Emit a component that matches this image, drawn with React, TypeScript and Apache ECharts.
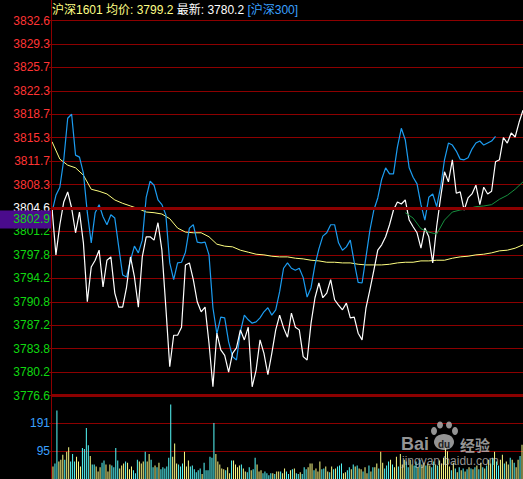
import React, { useEffect, useRef } from "react";
import * as echarts from "echarts";

// ---------- data ----------
const BASE = 3776.6; // bottom of the price scale
const PREV_CLOSE = 3804.6;
const CURSOR_PRICE = 3802.9;
const PRICE_TICKS = [
  "3776.6", "3780.2", "3783.8", "3787.2", "3790.8", "3794.2", "3797.8", "3801.2", "3804.6",
  "3808.3", "3811.7", "3815.3", "3818.7", "3822.3", "3825.7", "3829.3", "3832.6",
];
const VOL_TICKS = ["0", "95", "191"];

const HEADER_NAME = "沪深1601";
const HEADER_AVG = "均价: 3799.2";
const HEADER_LAST = "最新: 3780.2";
const HEADER_INDEX = "[沪深300]";

// price of 沪深1601, one point every 2 minutes
const PRICE = [
  3804.6, 3797.6, 3802.1, 3805.5, 3807.0, 3804.6, 3800.9, 3804.0, 3799.4, 3790.6,
  3795.8, 3796.8, 3798.3, 3792.8, 3796.8, 3797.3, 3791.9, 3789.8, 3789.8, 3792.8,
  3797.3, 3794.3, 3789.8, 3797.3, 3800.3, 3800.3, 3799.8, 3802.4, 3798.3, 3789.8,
  3780.9, 3785.6, 3785.6, 3786.8, 3796.1, 3796.4, 3793.9, 3790.6, 3789.1, 3789.8,
  3784.4, 3777.9, 3785.9, 3783.4, 3782.6, 3780.1, 3782.9, 3783.7, 3786.4, 3784.9,
  3786.8, 3777.9, 3780.4, 3784.9, 3782.9, 3779.7, 3782.9, 3786.4, 3788.6, 3786.7,
  3785.3, 3788.9, 3786.8, 3786.4, 3782.4, 3781.9, 3787.4, 3791.2, 3793.4, 3791.2,
  3791.9, 3793.9, 3790.9, 3790.1, 3789.4, 3790.4, 3788.2, 3788.3, 3785.9, 3784.9,
  3789.7, 3792.4, 3795.3, 3798.3, 3799.1, 3800.3, 3802.1, 3804.3, 3805.5, 3805.2,
  3805.8, 3802.8, 3801.8, 3800.9, 3798.6, 3801.6, 3800.3, 3796.4, 3801.8, 3806.1,
  3810.0, 3808.5, 3811.8, 3806.8, 3807.0, 3804.3, 3806.1, 3806.7, 3808.0, 3805.1,
  3807.7, 3806.7, 3807.1, 3811.5, 3811.8, 3815.1, 3814.3, 3815.8, 3815.2, 3817.4, 3819.2,
];

// 沪深300 overlay, one point every 2 minutes
const INDEX300 = [
  3804.0, 3806.5, 3807.7, 3811.8, 3818.0, 3818.6, 3812.5, 3812.2, 3809.8, 3803.9,
  3799.4, 3803.9, 3805.1, 3803.3, 3802.1, 3803.6, 3803.1, 3798.8, 3794.6, 3794.3,
  3796.8, 3798.9, 3797.9, 3799.8, 3806.2, 3808.6, 3808.0, 3805.8, 3805.1, 3803.6,
  3796.4, 3793.9, 3796.4, 3796.5, 3798.0, 3801.6, 3802.1, 3799.5, 3799.4, 3799.5,
  3797.6, 3789.7, 3785.8, 3788.3, 3788.2, 3784.6, 3782.4, 3781.9, 3786.1, 3788.6,
  3787.9, 3787.4, 3787.6, 3788.2, 3789.1, 3789.7, 3788.6, 3789.4, 3792.1, 3795.6,
  3796.4, 3795.6, 3795.3, 3795.6, 3794.2, 3791.3, 3792.7, 3796.1, 3798.5, 3800.4,
  3800.9, 3802.1, 3802.1, 3799.4, 3798.3, 3798.8, 3799.8, 3796.5, 3793.5, 3793.4,
  3797.3, 3801.3, 3804.3, 3806.1, 3808.9, 3810.6, 3809.7, 3809.7, 3813.7, 3816.5,
  3814.8, 3810.6, 3809.2, 3808.2, 3805.1, 3802.8, 3806.2, 3806.7, 3804.8, 3807.7,
  3811.8, 3814.3, 3814.0, 3813.1, 3811.9, 3811.8, 3812.1, 3813.4, 3814.3, 3814.6,
  3814.0, 3814.3, 3814.6, 3815.3,
];

// average price, one point every 4 minutes
const AVG = [
  3814.5, 3811.9, 3811.0, 3810.6, 3809.5, 3807.4, 3807.1, 3806.7, 3805.8, 3805.3,
  3804.9, 3804.5, 3804.0, 3803.9, 3803.7, 3803.0, 3801.6, 3801.0, 3800.9, 3800.9,
  3800.3, 3799.2, 3798.9, 3798.8, 3798.3, 3798.0, 3797.7, 3797.6, 3797.4, 3797.3,
  3797.3, 3797.1, 3797.0, 3796.8, 3796.7, 3796.5, 3796.5, 3796.4, 3796.4, 3796.2,
  3796.1, 3796.1, 3796.1, 3796.2, 3796.4, 3796.5, 3796.5, 3796.7, 3796.7, 3796.8,
  3796.8, 3797.1, 3797.3, 3797.4, 3797.6, 3797.7, 3797.9, 3798.2, 3798.3, 3798.6,
  3799.1,
];

// green line, one point every 4 minutes, starting at the 45th 4-minute step
const GREEN_START = 45;
const GREEN = [
  3803.9, 3803.1, 3801.5, 3801.0, 3800.7, 3802.8, 3804.0, 3804.3, 3804.5, 3804.8,
  3804.9, 3805.1, 3805.9, 3806.5, 3807.4, 3808.5,
];

// volume per minute
const VOLUME = [
  43, 53, 235, 60, 66, 83, 66, 93, 109, 60, 86, 60, 76, 60, 43, 106, 103, 175, 116, 79,
  50, 50, 43, 26, 40, 56, 63, 50, 26, 50, 46, 40, 106, 63, 36, 46, 53, 60, 56, 33,
  43, 30, 20, 66, 60, 53, 60, 93, 60, 86, 66, 40, 46, 40, 56, 33, 40, 36, 43, 73,
  255, 76, 122, 53, 50, 43, 53, 93, 43, 63, 43, 46, 33, 23, 30, 36, 17, 56, 30, 30,
  76, 73, 192, 86, 60, 50, 36, 33, 30, 40, 20, 63, 63, 50, 40, 46, 50, 36, 26, 23,
  40, 30, 33, 73, 50, 26, 30, 20, 26, 20, 13, 20, 20, 17, 26, 26, 26, 20, 36, 26,
  17, 30, 33, 36, 20, 17, 23, 17, 40, 33, 40, 53, 53, 30, 36, 26, 60, 33, 36, 43,
  26, 23, 43, 33, 36, 43, 46, 53, 20, 23, 30, 40, 33, 50, 43, 46, 36, 33, 26, 40,
  20, 46, 26, 40, 40, 53, 36, 93, 56, 36, 46, 60, 66, 50, 40, 76, 43, 86, 50, 66,
  60, 40, 66, 50, 46, 60, 40, 66, 50, 56, 46, 53, 46, 40, 60, 50, 46, 63, 53, 73,
  108, 95, 43, 30, 56, 36, 23, 40, 30, 36, 26, 33, 40, 36, 33, 40, 46, 33, 56, 40,
  36, 46, 66, 53, 73, 93, 60, 46, 66, 83, 53, 60, 50, 73, 66, 56, 40, 66, 79, 117,
];
// 1 = yellow bar, 0 = cyan bar
const VOL_UP = [
  1, 0, 0, 1, 1, 1, 0, 1, 1, 0, 0, 0, 1, 1, 1, 0, 0, 0, 0, 1,
  0, 0, 1, 1, 1, 0, 0, 1, 1, 1, 0, 0, 0, 0, 1, 1, 1, 0, 1, 1,
  1, 0, 0, 0, 1, 1, 1, 0, 1, 1, 0, 0, 1, 0, 1, 0, 0, 0, 0, 0,
  0, 1, 1, 1, 0, 0, 0, 1, 1, 1, 0, 0, 0, 0, 0, 0, 1, 0, 0, 0,
  0, 0, 0, 1, 1, 1, 1, 1, 0, 1, 1, 0, 1, 1, 1, 1, 0, 1, 1, 0,
  0, 1, 0, 0, 1, 1, 1, 0, 0, 0, 0, 0, 1, 0, 1, 1, 0, 1, 1, 0,
  0, 1, 0, 1, 0, 0, 1, 0, 0, 0, 1, 1, 1, 0, 1, 1, 1, 0, 0, 1,
  1, 0, 1, 0, 1, 0, 0, 0, 1, 1, 0, 0, 1, 0, 1, 0, 1, 1, 0, 1,
  1, 0, 1, 0, 1, 1, 0, 1, 1, 0, 0, 0, 1, 0, 1, 1, 0, 1, 1, 1,
  0, 0, 1, 1, 0, 0, 1, 0, 1, 1, 0, 1, 1, 0, 0, 1, 0, 1, 1, 1,
  1, 1, 1, 0, 1, 0, 1, 0, 1, 0, 1, 0, 1, 0, 1, 0, 1, 0, 1, 0,
  1, 0, 1, 1, 0, 1, 0, 0, 1, 1, 0, 1, 1, 0, 1, 0, 1, 1, 0, 1,
];

// ---------- styles ----------
const GRID_RED = "#8c0000";
const UP_RED = "#ff3434";
const DOWN_GREEN = "#10d810";
const BLUE_TXT = "#3aa0ff";
const YELLOW_TXT = "#ffff86";
const FONT = "'Liberation Sans', Arial, 'Noto Sans CJK SC', sans-serif";

export default function App() {
  const ref = useRef<HTMLDivElement>(null);

  useEffect(() => {
    if (!ref.current) return;
    const chart = echarts.init(ref.current, undefined, { renderer: "svg" });

    const tickIndex = (v: any) => Math.round(parseFloat(v) / 3.5);

    const option: any = {
      animation: false,
      backgroundColor: "#000000",
      grid: [
        { left: 52, right: 0, top: 20.5, height: 375 },
        { left: 52, right: 0, top: 395.4, height: 86.6 },
      ],
      xAxis: [
        { type: "value", gridIndex: 0, min: 0, max: 240, show: false },
        {
          type: "category",
          gridIndex: 1,
          data: VOLUME.map((_, i) => i),
          boundaryGap: true,
          show: false,
        },
      ],
      yAxis: [
        {
          type: "value",
          gridIndex: 0,
          min: 0,
          max: 56,
          interval: 3.5,
          axisLine: { show: false },
          axisTick: { show: true, length: 3, lineStyle: { color: GRID_RED } },
          splitLine: { show: true, lineStyle: { color: GRID_RED, width: 1 } },
          axisLabel: {
            margin: 2,
            fontSize: 12,
            fontFamily: FONT,
            formatter: (v: number) => PRICE_TICKS[tickIndex(v)] ?? "",
            color: (v: any) => {
              const i = tickIndex(v);
              return i > 8 ? UP_RED : i === 8 ? "#ffffff" : DOWN_GREEN;
            },
          },
        },
        {
          type: "value",
          gridIndex: 1,
          min: 0,
          max: 286.5,
          interval: 95.5,
          axisLine: { show: false },
          axisTick: { show: true, length: 3, lineStyle: { color: GRID_RED } },
          splitLine: { show: true, lineStyle: { color: GRID_RED, width: 1 } },
          axisLabel: {
            margin: 2,
            fontSize: 12,
            fontFamily: FONT,
            color: BLUE_TXT,
            showMinLabel: false,
            showMaxLabel: false,
            formatter: (v: number) => VOL_TICKS[Math.round(v / 95.5)] ?? "",
          },
        },
      ],
      series: [
        {
          type: "line",
          xAxisIndex: 0,
          yAxisIndex: 0,
          data: [],
          silent: true,
          markLine: {
            silent: true,
            symbol: "none",
            label: { show: false },
            lineStyle: { color: GRID_RED, width: 3, type: "solid" },
            data: [{ yAxis: PREV_CLOSE - BASE }, { yAxis: 0 }],
          },
        },
        {
          type: "line",
          name: "avg",
          xAxisIndex: 0,
          yAxisIndex: 0,
          symbol: "none",
          silent: true,
          lineStyle: { color: "#ffff80", width: 1 },
          data: AVG.map((v, i) => [i * 4, +(v - BASE).toFixed(2)]),
        },
        {
          type: "line",
          name: "hs300",
          xAxisIndex: 0,
          yAxisIndex: 0,
          symbol: "none",
          silent: true,
          lineStyle: { color: "#1c9cf0", width: 1.2 },
          data: INDEX300.map((v, k) => [k * 2, +(v - BASE).toFixed(2)]),
        },
        {
          type: "line",
          name: "price",
          xAxisIndex: 0,
          yAxisIndex: 0,
          symbol: "none",
          silent: true,
          lineStyle: { color: "#ffffff", width: 1.2 },
          data: PRICE.map((v, k) => [k * 2, +(v - BASE).toFixed(2)]),
        },
        {
          type: "line",
          name: "green",
          xAxisIndex: 0,
          yAxisIndex: 0,
          symbol: "none",
          silent: true,
          lineStyle: { color: "#17903f", width: 1 },
          data: GREEN.map((v, i) => [(GREEN_START + i) * 4, +(v - BASE).toFixed(2)]),
        },
        {
          type: "bar",
          xAxisIndex: 1,
          yAxisIndex: 1,
          barWidth: 1,
          silent: true,
          data: VOLUME.map((v, i) => ({
            value: v,
            itemStyle: { color: VOL_UP[i] ? "#fcfc86" : "#56fcfc" },
          })),
        },
      ],
    };
    chart.setOption(option);

    const cy = chart.convertToPixel({ yAxisIndex: 0 }, CURSOR_PRICE - BASE) as number;
    const wm = "rgba(190,190,190,0.78)";

    chart.setOption({
      graphic: [
        {
          type: "line",
          silent: true,
          shape: { x1: 51.5, y1: 0, x2: 51.5, y2: 479 },
          style: { stroke: GRID_RED, lineWidth: 1 },
          z: 10,
        },
        {
          type: "text",
          silent: true,
          z: 10,
          style: {
            x: 52,
            y: 10,
            verticalAlign: "middle",
            text: `{a|${HEADER_NAME} ${HEADER_AVG}} {b|${HEADER_LAST}} {c|${HEADER_INDEX}}`,
            font: `12px ${FONT}`,
            rich: {
              a: { fill: YELLOW_TXT, fontSize: 12, fontFamily: FONT },
              b: { fill: "#ffffff", fontSize: 12, fontFamily: FONT },
              c: { fill: BLUE_TXT, fontSize: 12, fontFamily: FONT },
            },
          },
        },
        {
          type: "rect",
          silent: true,
          z: 20,
          shape: { x: 0, y: cy - 9, width: 51, height: 18 },
          style: { fill: "#4a0b8c" },
        },
        {
          type: "text",
          silent: true,
          z: 21,
          style: {
            x: 50,
            y: cy,
            text: CURSOR_PRICE.toFixed(1),
            align: "right",
            verticalAlign: "middle",
            fill: DOWN_GREEN,
            font: `12px ${FONT}`,
          },
        },
        // watermark
        {
          type: "text",
          silent: true,
          z: 30,
          style: { x: 401, y: 444, text: "Bai", verticalAlign: "middle", fill: wm, font: `bold 18px ${FONT}` },
        },
        { type: "ellipse", silent: true, z: 30, shape: { cx: 444, cy: 442, rx: 10, ry: 8 }, style: { fill: wm } },
        { type: "ellipse", silent: true, z: 30, shape: { cx: 434, cy: 431, rx: 3, ry: 4 }, style: { fill: wm } },
        { type: "ellipse", silent: true, z: 30, shape: { cx: 440, cy: 425, rx: 3, ry: 3.5 }, style: { fill: wm } },
        { type: "ellipse", silent: true, z: 30, shape: { cx: 449, cy: 425, rx: 3, ry: 3.5 }, style: { fill: wm } },
        { type: "ellipse", silent: true, z: 30, shape: { cx: 455, cy: 431, rx: 3, ry: 4 }, style: { fill: wm } },
        {
          type: "text",
          silent: true,
          z: 31,
          style: { x: 444, y: 444, text: "du", align: "center", verticalAlign: "middle", fill: "#202020", font: `bold 10px ${FONT}` },
        },
        {
          type: "text",
          silent: true,
          z: 30,
          style: { x: 460, y: 444, text: "经验", verticalAlign: "middle", fill: wm, font: `bold 15px 'Noto Sans CJK SC', sans-serif` },
        },
        {
          type: "text",
          silent: true,
          z: 30,
          style: { x: 402, y: 461, text: "jingyan.baidu.com", verticalAlign: "middle", fill: wm, font: `12px ${FONT}` },
        },
      ],
    });

    return () => chart.dispose();
  }, []);

  return (
    <div
      ref={ref}
      style={{ position: "fixed", left: 0, top: 0, width: 523, height: 479, background: "#000" }}
    />
  );
}
